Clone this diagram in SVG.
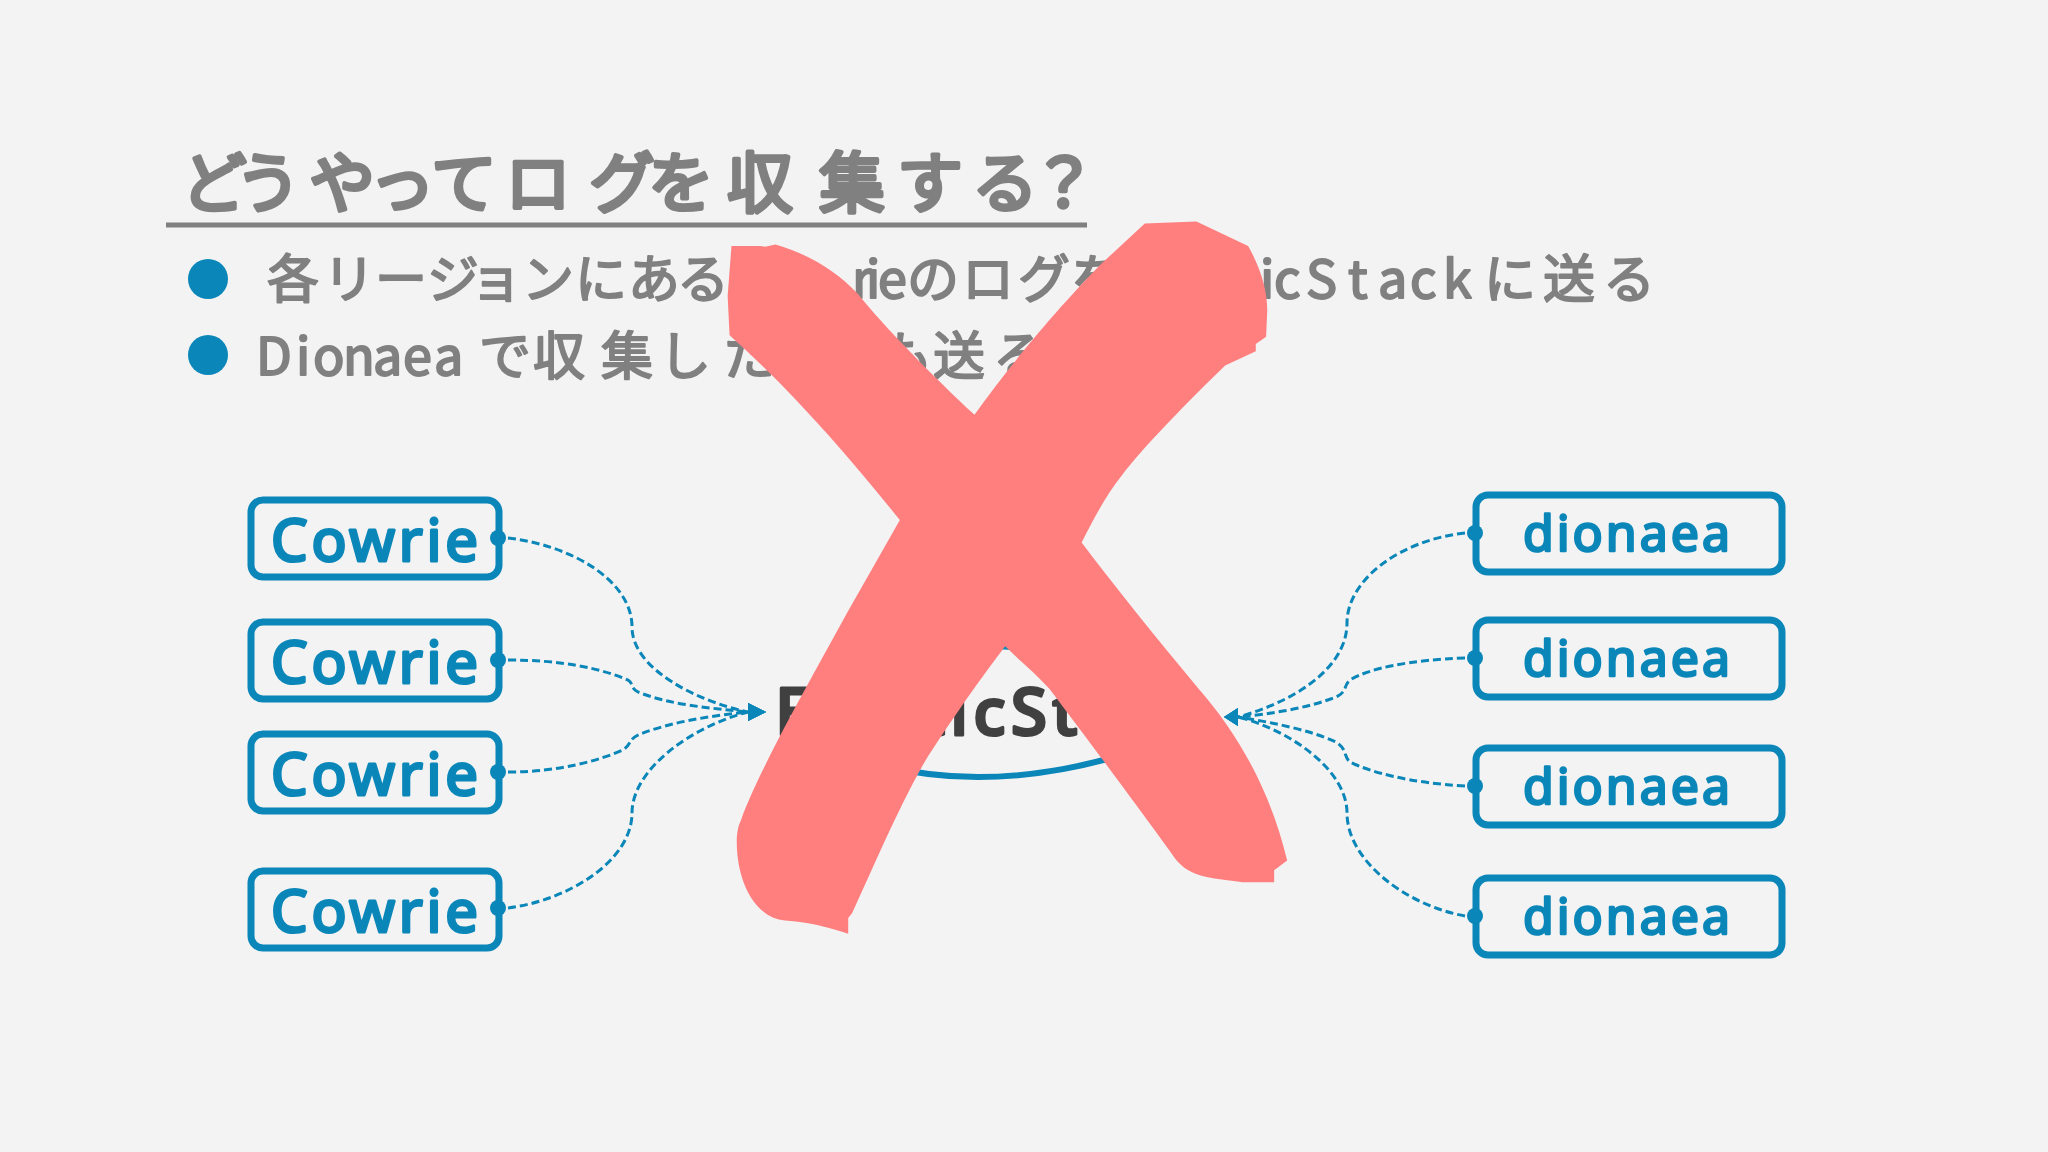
<svg xmlns="http://www.w3.org/2000/svg" width="2048" height="1152" viewBox="0 0 2048 1152">
<style>
.bg{fill:#f3f3f4}
.jp{font-family:"Noto Sans CJK JP","Noto Sans",sans-serif;fill:#808080;stroke:#808080;stroke-linejoin:round;stroke-linecap:round}
.title{font-size:66px;font-weight:400;stroke-width:4px}
.line{font-size:52px;font-weight:400;stroke-width:2px}
.box{fill:none;stroke:#0a86b8;stroke-width:7px}
.lbl{font-family:"Noto Sans","Liberation Sans",sans-serif;fill:#0a86b8;stroke:#0a86b8;stroke-linejoin:round}
.cow{font-size:58px;font-weight:400;stroke-width:3px}
.dio{font-size:50px;font-weight:400;stroke-width:2.5px}
.dot{fill:#0a86b8}
.conn{fill:none;stroke:#0a86b8;stroke-width:3px;stroke-dasharray:8 4}
.cl{marker-end:url(#headL)}
.cr{marker-end:url(#headR)}
.cross{fill:#ff7f7f}
</style>
<defs>
<marker id="headL" markerUnits="userSpaceOnUse" markerWidth="20" markerHeight="20" refX="0" refY="10" orient="0"><path d="M0 1L18 10L0 19Z" fill="#0a86b8"/></marker>
<marker id="headR" markerUnits="userSpaceOnUse" markerWidth="16" markerHeight="20" refX="14" refY="10" orient="0"><path d="M14 1L0 10L14 19Z" fill="#0a86b8"/></marker>
</defs>
<rect class="bg" width="2048" height="1152"/>
<g id="heading">
<text class="jp title" y="207" x="181 235 309 369 431 505 589 648 727 819 897 972 1031">どうやってログを収集する？</text>
<line x1="166" y1="225" x2="1087" y2="225" stroke="#808080" stroke-width="5"/>
</g>
<g id="bullets">
<ellipse class="dot" cx="208" cy="279" rx="20" ry="20"/>
<ellipse class="dot" cx="208" cy="355" rx="20" ry="20"/>
<text class="jp line" y="298" x="267 323 375 427 470 522 575 628 677 738 762 786 852 866 878 907 962 1018 1071 1120 1155 1170 1200 1230 1260 1274 1306 1348 1378 1410 1443 1484 1543 1603">各リージョンにあるCowrieのログをElasticStackに送る</text>
<text class="jp line" y="375" x="256 296 313 343 373 403 434 479 533 601 659 723 770 825 880 933 993">Dionaeaで収集したログも送る</text>
</g>
<g id="connectors">
<path class="conn cl" d="M508 538C570 545 632 580 632 627C632 670 700 702 748 712"/>
<path class="conn cl" d="M508 660C560 660 600 668 628 680C634 684 630 688 638 692C670 705 710 708 748 712"/>
<path class="conn cl" d="M508 772C560 772 600 760 623 750C632 744 628 740 638 735C670 722 710 716 748 712"/>
<path class="conn cl" d="M508 908C570 900 632 860 632 813C632 770 690 727 748 712"/>
<path class="conn cr" d="M1465 533C1400 540 1347 580 1347 623C1347 670 1290 703 1238 717"/>
<path class="conn cr" d="M1465 658C1410 660 1370 668 1350 680C1343 686 1348 690 1338 696C1310 708 1270 714 1238 717"/>
<path class="conn cr" d="M1465 786C1410 783 1370 772 1350 762C1343 756 1348 750 1336 742C1310 730 1270 722 1238 717"/>
<path class="conn cr" d="M1465 916C1405 905 1347 860 1347 813C1347 770 1290 730 1238 717"/>
</g>
<g id="cowrie-1"><rect class="box" x="251" y="500" width="248" height="77" rx="12"/><circle class="dot" cx="498" cy="538" r="8"/><text class="lbl cow" x="271" y="561" textLength="207">Cowrie</text></g>
<g id="cowrie-2"><rect class="box" x="251" y="622" width="248" height="77" rx="12"/><circle class="dot" cx="498" cy="660" r="8"/><text class="lbl cow" x="271" y="683" textLength="207">Cowrie</text></g>
<g id="cowrie-3"><rect class="box" x="251" y="734" width="248" height="77" rx="12"/><circle class="dot" cx="498" cy="772" r="8"/><text class="lbl cow" x="271" y="795" textLength="207">Cowrie</text></g>
<g id="cowrie-4"><rect class="box" x="251" y="871" width="248" height="77" rx="12"/><circle class="dot" cx="498" cy="908" r="8"/><text class="lbl cow" x="271" y="932" textLength="207">Cowrie</text></g>
<g id="dionaea-1"><rect class="box" x="1476" y="495" width="306" height="77" rx="12"/><circle class="dot" cx="1475" cy="533" r="8"/><text class="lbl dio" x="1523" y="551" textLength="207">dionaea</text></g>
<g id="dionaea-2"><rect class="box" x="1476" y="620" width="306" height="77" rx="12"/><circle class="dot" cx="1475" cy="658" r="8"/><text class="lbl dio" x="1523" y="676" textLength="207">dionaea</text></g>
<g id="dionaea-3"><rect class="box" x="1476" y="748" width="306" height="77" rx="12"/><circle class="dot" cx="1475" cy="786" r="8"/><text class="lbl dio" x="1523" y="804" textLength="207">dionaea</text></g>
<g id="dionaea-4"><rect class="box" x="1476" y="878" width="306" height="77" rx="12"/><circle class="dot" cx="1475" cy="916" r="8"/><text class="lbl dio" x="1523" y="934" textLength="207">dionaea</text></g>
<g id="elasticstack">
<path d="M885 766Q990 792 1115 757" fill="none" stroke="#0a86b8" stroke-width="6"/>
<path d="M985 651Q1004 642 1025 651" fill="none" stroke="#0a86b8" stroke-width="6"/>
<text x="775" y="735" textLength="425" style="font-family:'Noto Sans',sans-serif;font-size:66px;font-weight:500;fill:#404040;stroke:#404040;stroke-width:3px;stroke-linejoin:round">ElasticStack</text>
</g>
<path class="cross" transform="translate(720 210) scale(.3827 .4784)" d="M30 75L105 75L118 77L145 72C230 92 300 125 360 175C430 245 560 350 665 428C760 320 900 190 1000 110L1110 28L1245 24L1380 75C1415 125 1430 170 1430 210L1427 265L1400 280L1400 295L1320 325C1230 395 1100 500 1050 555C1010 595 980 640 945 695C1030 785 1130 885 1250 1000C1360 1100 1440 1220 1482 1360L1448 1380L1448 1405L1365 1405C1270 1395 1220 1395 1180 1345C1080 1235 960 1105 860 1000C820 965 780 940 745 912C690 970 600 1070 530 1160C460 1260 400 1375 345 1470L335 1480L335 1513C280 1498 230 1488 170 1485C90 1480 40 1400 44 1310C48 1285 50 1285 55 1275C100 1175 210 1020 330 845L470 648C330 510 190 380 25 262L20 180Z"/>
</svg>
